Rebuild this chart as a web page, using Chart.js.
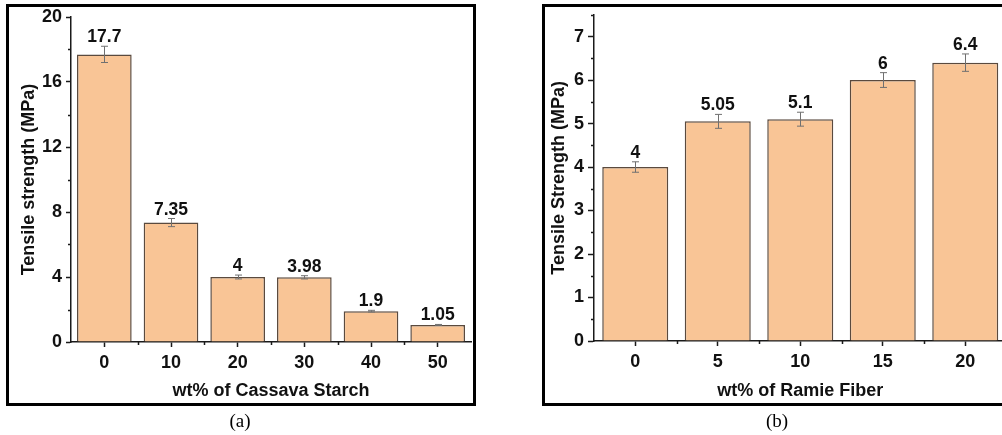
<!DOCTYPE html>
<html>
<head>
<meta charset="utf-8">
<script src="https://cdn.jsdelivr.net/npm/chart.js@4/dist/chart.umd.min.js"></script>
<style>
  html, body { margin: 0; padding: 0; background: #fff; }
  body { width: 1002px; height: 435px; overflow: hidden; position: relative; }
  canvas { position: absolute; top: 0; }
  .box { position: absolute; top: 4px; height: 402px; border: 3px solid #000; box-sizing: border-box; }
  .cap { position: absolute; top: 421px; transform: translate(-50%, -50%);
         font: 19px "Liberation Serif", "Times New Roman", serif; color: #000; }
</style>
</head>
<body>
<div class="box" style="left:6px; width:470px;"></div>
<div class="box" style="left:542px; width:520px;"></div>
<canvas id="panelA" width="500" height="435" style="left:0"></canvas>
<canvas id="panelB" width="560" height="435" style="left:500px"></canvas>
<div class="cap" style="left:240px;">(a)</div>
<div class="cap" style="left:777px;">(b)</div>
<script>
// Panel (a): tensile strength vs. cassava starch content
const starchLevels = ['0', '10', '20', '30', '40', '50'];
const starchStrength = [17.7, 7.35, 4, 3.98, 1.9, 1.05];
const starchError = [0.5, 0.25, 0.12, 0.1, 0.05, 0.03];
const starchTicks = [0, 4, 8, 12, 16, 20];

// Panel (b): tensile strength vs. ramie fiber content
const fiberLevels = ['0', '5', '10', '15', '20'];
const fiberStrength = [4, 5.05, 5.1, 6, 6.4];
const fiberError = [0.12, 0.16, 0.16, 0.17, 0.2];
const fiberTicks = [0, 1, 2, 3, 4, 5, 6, 7];

const FILL = '#F9C596';
const EDGE = '#5a4a3e';
const AXIS = '#1a1a1a';
const INK = '#111';
const FAMILY = '"Liberation Sans", Arial, sans-serif';

// short minor ticks between labelled ticks and between categories
const minorTicks = {
  id: 'minorTicks',
  afterDraw(chart, args, opts) {
    const {ctx} = chart;
    const x = chart.scales.x, y = chart.scales.y;
    ctx.save();
    ctx.strokeStyle = AXIS;
    ctx.lineWidth = 1.5;
    ctx.beginPath();
    y.ticks.forEach(t => {
      if (opts.majors.includes(t.value)) return;
      const py = Math.round(y.getPixelForValue(t.value)) + 0.5;
      ctx.moveTo(y.right - 3, py);
      ctx.lineTo(y.right, py);
    });
    const n = chart.data.labels.length;
    for (let i = 0; i < n - 1; i++) {
      const px = Math.round((x.getPixelForValue(i) + x.getPixelForValue(i + 1)) / 2) + 0.5;
      ctx.moveTo(px, x.top);
      ctx.lineTo(px, x.top + 3);
    }
    ctx.stroke();
    ctx.restore();
  }
};

// error bars and value labels above each bar
const barAnnotations = {
  id: 'barAnnotations',
  afterDatasetsDraw(chart, args, opts) {
    const {ctx} = chart;
    const y = chart.scales.y;
    const meta = chart.getDatasetMeta(0);
    const vals = chart.data.datasets[0].data;
    ctx.save();
    meta.data.forEach((bar, i) => {
      const v = vals[i], e = opts.errors[i];
      const top = y.getPixelForValue(v + e);
      const bot = y.getPixelForValue(v - e);
      const cx = Math.round(bar.x) + 0.5;
      ctx.strokeStyle = '#707070';
      ctx.lineWidth = 1;
      ctx.beginPath();
      ctx.moveTo(cx, top); ctx.lineTo(cx, bot);
      ctx.moveTo(cx - 3.5, top); ctx.lineTo(cx + 3.5, top);
      ctx.moveTo(cx - 3.5, bot); ctx.lineTo(cx + 3.5, bot);
      ctx.stroke();
      ctx.fillStyle = INK;
      ctx.font = 'bold 17.5px ' + FAMILY;
      ctx.textAlign = 'center';
      ctx.textBaseline = 'alphabetic';
      ctx.fillText(String(v), bar.x, top - 4);
    });
    ctx.restore();
  }
};

function makePanel(id, cfg) {
  const tickFont = {family: FAMILY, size: 18, weight: 'bold'};
  const titleFont = {family: FAMILY, size: 18, weight: 'bold'};
  return new Chart(document.getElementById(id), {
    type: 'bar',
    data: {
      labels: cfg.cats,
      datasets: [{
        data: cfg.vals,
        backgroundColor: FILL,
        borderColor: EDGE,
        borderWidth: 1.5,
        categoryPercentage: 1,
        barPercentage: cfg.barPct
      }]
    },
    options: {
      responsive: false,
      animation: false,
      devicePixelRatio: 1,
      layout: {padding: cfg.pad},
      plugins: {
        legend: {display: false},
        tooltip: {enabled: false},
        minorTicks: {majors: cfg.majors},
        barAnnotations: {errors: cfg.errs}
      },
      scales: {
        x: {
          offset: true,
          z: 1,
          grid: {drawOnChartArea: false, offset: false, tickLength: 5, tickWidth: 1.5, tickColor: AXIS},
          border: {display: true, color: AXIS, width: 1.5},
          ticks: {font: tickFont, color: INK, padding: 5, maxRotation: 0, autoSkip: false},
          title: {display: true, text: cfg.xTitle, font: titleFont, color: INK,
                  padding: {top: 0, bottom: cfg.xTitlePad}},
          afterFit(s) { s.height = cfg.xHeight; }
        },
        y: {
          min: 0,
          max: cfg.yMax,
          z: 1,
          ticks: {
            stepSize: cfg.minorStep,
            autoSkip: false,
            font: tickFont,
            color: INK,
            padding: cfg.yTickPad,
            callback: v => cfg.majors.includes(v) ? String(v) : ''
          },
          grid: {
            drawOnChartArea: false,
            tickLength: cfg.yTickLen,
            tickWidth: 1.5,
            tickColor: c => (c.tick && cfg.majors.includes(c.tick.value)) ? AXIS : 'rgba(0,0,0,0)'
          },
          border: {display: true, color: AXIS, width: 1.5},
          title: {display: true, text: cfg.yTitle, font: titleFont, color: INK,
                  padding: {top: cfg.yTitlePad, bottom: 0}},
          afterFit(s) { s.width = cfg.yWidth; }
        }
      }
    },
    plugins: [minorTicks, barAnnotations]
  });
}

makePanel('panelA', {
  cats: starchLevels, vals: starchStrength, errs: starchError, majors: starchTicks,
  yMax: 20, minorStep: 2, barPct: 0.82,
  pad: {left: 0, right: 29, top: 17, bottom: 0},
  yWidth: 71, xHeight: 93, yTickLen: 5, yTickPad: 4,
  xTitle: 'wt% of Cassava Starch', xTitlePad: 33,
  yTitle: 'Tensile strength (MPa)', yTitlePad: 18
});

makePanel('panelB', {
  cats: fiberLevels, vals: fiberStrength, errs: fiberError, majors: fiberTicks,
  yMax: 7.5, minorStep: 0.5, barPct: 0.8,
  pad: {left: 0, right: 53.5, top: 14, bottom: 0},
  yWidth: 94, xHeight: 94, yTickLen: 6, yTickPad: 4,
  xTitle: 'wt% of Ramie Fiber', xTitlePad: 33,
  yTitle: 'Tensile Strength (MPa)', yTitlePad: 48
});
</script>
</body>
</html>
